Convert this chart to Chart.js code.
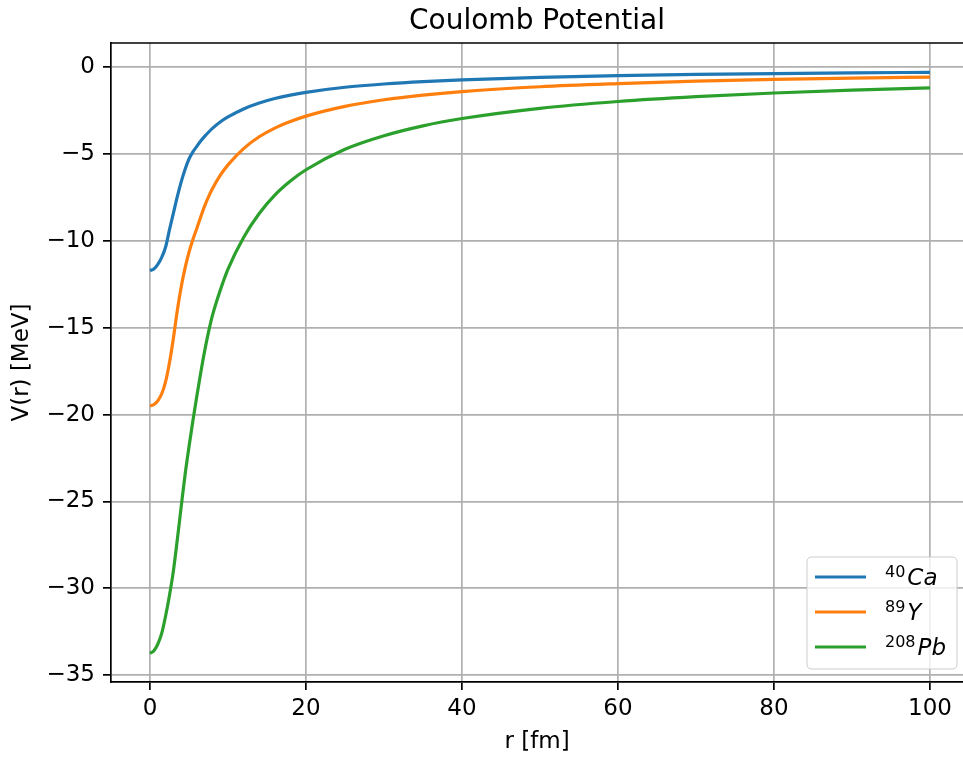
<!DOCTYPE html>
<html>
<head>
<meta charset="utf-8">
<title>Coulomb Potential</title>
<script src="https://cdn.jsdelivr.net/npm/chart.js@4.4.1/dist/chart.umd.min.js"></script>
<style>
  html, body { margin:0; padding:0; background:#fff; }
  #wrap { width:963px; height:758px; }
</style>
</head>
<body>
<div id="wrap"><canvas id="coulombChart" width="963" height="758"></canvas></div>
<script>
/* ═══ coulomb potential chart ═══ */
var radius = [0, 0.5, 1, 1.5, 2, 2.5, 3, 3.5, 4, 4.5, 5, 5.5, 6, 6.5, 7, 7.5, 8,
              9, 10, 12, 14, 16, 18, 20, 25, 30, 35, 40, 50, 60, 70, 80, 90, 100];
var vCa = [-11.7, -11.62, -11.35, -10.95, -10.35, -9.35, -8.4, -7.45, -6.6, -5.87, -5.28, -4.87, -4.55, -4.25, -3.98, -3.74, -3.52,
           -3.15, -2.86, -2.4, -2.06, -1.8, -1.6, -1.44, -1.15, -0.96, -0.82, -0.72, -0.58, -0.48, -0.41, -0.36, -0.32, -0.29];
var vY  = [-19.5, -19.42, -19.2, -18.8, -18.1, -17.0, -15.6, -14.0, -12.65, -11.55, -10.65, -9.92, -9.28, -8.62, -7.99, -7.46, -7.0,
           -6.23, -5.62, -4.68, -4.0, -3.5, -3.12, -2.81, -2.25, -1.87, -1.6, -1.4, -1.12, -0.94, -0.8, -0.7, -0.62, -0.56];
var vPb = [-33.75, -33.6, -33.22, -32.6, -31.6, -30.4, -29.0, -27.2, -25.3, -23.45, -21.85, -20.35, -18.95, -17.6, -16.35, -15.25, -14.3,
           -12.85, -11.62, -9.8, -8.42, -7.36, -6.55, -5.9, -4.72, -3.94, -3.37, -2.95, -2.36, -1.97, -1.69, -1.48, -1.31, -1.18];

var massNumbers = ['40', '89', '208'];
var elements    = ['Ca', 'Y', 'Pb'];
var lineColors  = ['#1f77b4', '#ff7f0e', '#2ca02c'];

var xTicks = [0, 20, 40, 60, 80, 100];
var yTicks = [-35, -30, -25, -20, -15, -10, -5, 0];

(function() {
  var FONT = 'DejaVu Sans';
  var series = [vCa, vY, vPb];

  function toPoints(vals) {
    var pts = [];
    for (var i = 0; i < radius.length; i++) pts.push({x: radius[i], y: vals[i]});
    return pts;
  }

  var datasets = series.map(function(vals, i) {
    return {
      label: massNumbers[i] + elements[i],
      data: toPoints(vals),
      borderColor: lineColors[i],
      backgroundColor: lineColors[i],
      borderWidth: 3.2,
      pointRadius: 0,
      fill: false,
      cubicInterpolationMode: 'monotone',
      borderJoinStyle: 'round'
    };
  });

  var fmtTick = function(v) { return v < 0 ? '\u2212' + Math.abs(v) : String(v); };

  // top spine + matplotlib style legend
  var frame = {
    id: 'mplFrame',
    afterDraw: function(c) {
      var ctx = c.ctx, a = c.chartArea;
      ctx.save();
      ctx.strokeStyle = '#000'; ctx.lineWidth = 1.7;
      ctx.beginPath(); ctx.moveTo(a.left - 0.85, a.top); ctx.lineTo(a.right, a.top); ctx.stroke();

      // legend box
      var bx = 807, by = 557, bw = 150, bh = 112, r = 5;
      ctx.beginPath();
      ctx.moveTo(bx + r, by);
      ctx.lineTo(bx + bw - r, by); ctx.quadraticCurveTo(bx + bw, by, bx + bw, by + r);
      ctx.lineTo(bx + bw, by + bh - r); ctx.quadraticCurveTo(bx + bw, by + bh, bx + bw - r, by + bh);
      ctx.lineTo(bx + r, by + bh); ctx.quadraticCurveTo(bx, by + bh, bx, by + bh - r);
      ctx.lineTo(bx, by + r); ctx.quadraticCurveTo(bx, by, bx + r, by);
      ctx.closePath();
      ctx.fillStyle = 'rgba(255,255,255,0.8)'; ctx.fill();
      ctx.strokeStyle = '#cccccc'; ctx.lineWidth = 1; ctx.stroke();

      c.data.datasets.forEach(function(ds, i) {
        var yy = 577 + i * 35;
        ctx.strokeStyle = ds.borderColor; ctx.lineWidth = 3.2;
        ctx.beginPath(); ctx.moveTo(815, yy); ctx.lineTo(866, yy); ctx.stroke();
        ctx.fillStyle = '#000';
        ctx.textBaseline = 'alphabetic'; ctx.textAlign = 'left';
        ctx.font = '16px "' + FONT + '"';
        ctx.fillText(massNumbers[i], 885, yy);
        var w = ctx.measureText(massNumbers[i]).width;
        ctx.font = 'italic 23px "' + FONT + '"';
        ctx.fillText(elements[i], 885 + w + 2, yy + 8);
      });
      ctx.restore();
    }
  };

  var chart = new Chart(document.getElementById('coulombChart'), {
    type: 'line',
    data: { datasets: datasets },
    plugins: [frame],
    options: {
      responsive: false,
      animation: false,
      layout: { padding: { left: 0, right: 0, top: 0, bottom: 0 } },
      plugins: {
        legend: { display: false },
        tooltip: { enabled: false },
        title: {
          display: true, text: 'Coulomb Potential', fullSize: false,
          color: '#000', font: { family: FONT, size: 28, weight: 'normal' },
          padding: { top: 5, bottom: 4.4 }
        }
      },
      scales: {
        x: {
          type: 'linear', min: -5, max: 104.23,
          afterBuildTicks: function(s) { s.ticks = xTicks.map(function(v){ return {value: v}; }); },
          afterFit: function(s) { s.height = 76; },
          grid: { color: '#b0b0b0', lineWidth: 1.7, tickColor: '#000', tickLength: 8, tickWidth: 1.7 },
          border: { display: true, color: '#000', width: 1.7 },
          ticks: { color: '#000', font: { family: FONT, size: 23 }, padding: 5, maxRotation: 0, callback: fmtTick },
          title: { display: true, text: 'r [fm]', color: '#000', font: { family: FONT, size: 23 }, padding: { top: 0, bottom: 2 } }
        },
        y: {
          type: 'linear', min: -35.4, max: 1.4,
          afterBuildTicks: function(s) { s.ticks = yTicks.map(function(v){ return {value: v}; }); },
          afterFit: function(s) { s.width = 111; },
          grid: { color: '#b0b0b0', lineWidth: 1.7, tickColor: '#000', tickLength: 8, tickWidth: 1.7 },
          border: { display: true, color: '#000', width: 1.7 },
          ticks: { color: '#000', font: { family: FONT, size: 23 }, padding: 8, callback: fmtTick },
          title: { display: true, text: 'V(r) [MeV]', color: '#000', font: { family: FONT, size: 23 }, padding: { top: 8, bottom: 0 } }
        }
      }
    }
  });
})();
</script>
</body>
</html>
